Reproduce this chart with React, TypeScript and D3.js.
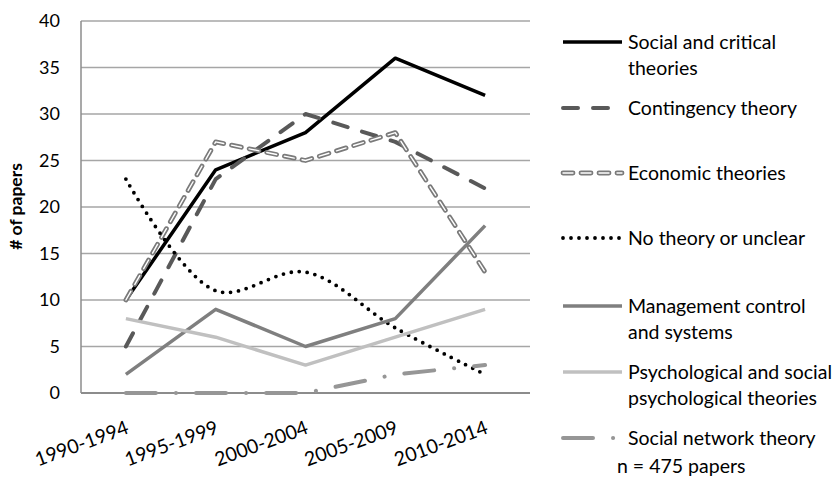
import React from "react";
import * as d3 from "d3";

const categories = ["1990-1994", "1995-1999", "2000-2004", "2005-2009", "2010-2014"];
const socialCritical = [10, 24, 28, 36, 32];
const contingency = [5, 23, 30, 27, 22];
const economic = [10, 27, 25, 28, 13];
const noTheory = [23, 11, 13, 7, 2];
const mgmtControl = [2, 9, 5, 8, 18];
const psychological = [8, 6, 3, 6, 9];
const socialNetwork = [0, 0, 0, 2, 3];
const yTicks = [0, 5, 10, 15, 20, 25, 30, 35, 40];

type Style = {
  color: string;
  width: number;
  dash?: string;
  cap?: "round" | "butt";
  compound?: boolean;
  smooth?: boolean;
};

const seriesList: { name: string[]; values: number[]; style: Style; ly: number }[] = [
  { name: ["Social and critical", "theories"], values: socialCritical, style: { color: "#000000", width: 3.5 }, ly: 42 },
  { name: ["Contingency theory"], values: contingency, style: { color: "#595959", width: 4, dash: "15 15", cap: "round" }, ly: 108 },
  { name: ["Economic theories"], values: economic, style: { color: "#7a7a7a", width: 4.8, dash: "10 8", cap: "round", compound: true }, ly: 173 },
  { name: ["No theory or unclear"], values: noTheory, style: { color: "#000000", width: 3.8, dash: "0 8", cap: "round", smooth: true }, ly: 238 },
  { name: ["Management control", "and systems"], values: mgmtControl, style: { color: "#7f7f7f", width: 3.5 }, ly: 306 },
  { name: ["Psychological and social", "psychological theories"], values: psychological, style: { color: "#c0c0c0", width: 3.5 }, ly: 372 },
  { name: ["Social network theory"], values: socialNetwork, style: { color: "#969696", width: 4, dash: "30 20 0.1 20", cap: "round" }, ly: 438 },
];

const W = 840;
const H = 479;
const left = 81;
const right = 530;
const top = 21;
const bottom = 393;
const font = "Lato, 'Open Sans', sans-serif";

export default function App() {
  const x = d3.scaleBand().domain(categories).range([left, right]);
  const y = d3.scaleLinear().domain([0, 40]).range([bottom, top]);
  const cx = (c: string) => (x(c) as number) + x.bandwidth() / 2;

  const renderLine = (d: string, s: Style, key: string) => (
    <g key={key}>
      <path
        d={d}
        fill="none"
        stroke={s.color}
        strokeWidth={s.width}
        strokeDasharray={s.dash}
        strokeLinecap={s.cap || "butt"}
        strokeLinejoin="round"
      />
      {s.compound && (
        <path
          d={d}
          fill="none"
          stroke="#ffffff"
          strokeWidth={1.4}
          strokeDasharray={s.dash}
          strokeLinecap={s.cap || "butt"}
          strokeLinejoin="round"
        />
      )}
    </g>
  );

  return (
    <svg
      width={W}
      height={H}
      style={{ position: "absolute", left: 0, top: 0, background: "#fff" }}
      fontFamily={font}
    >
      {yTicks.map((t) => (
        <g key={t}>
          {t > 0 && (
            <line x1={left} x2={right} y1={y(t)} y2={y(t)} stroke="#a6a6a6" strokeWidth={1.5} />
          )}
          <text x={60} y={y(t)} dy="0.36em" textAnchor="end" fontSize={18} fill="#000">
            {t}
          </text>
        </g>
      ))}
      <line x1={left} x2={left} y1={top} y2={bottom} stroke="#8c8c8c" strokeWidth={1.5} />
      <line x1={left} x2={right} y1={bottom} y2={bottom} stroke="#8c8c8c" strokeWidth={2} />
      <text
        transform={`translate(22,206.5) rotate(-90)`}
        textAnchor="middle"
        fontSize={17.5}
        fontWeight="bold"
      >
        # of papers
      </text>
      {categories.map((c) => (
        <text
          key={c}
          transform={`translate(${cx(c) + 4},${bottom + 40}) rotate(-20)`}
          textAnchor="end"
          fontSize={19.5}
        >
          {c}
        </text>
      ))}
      {seriesList.map((s, i) => {
        const gen = d3
          .line<number>()
          .x((_, j) => cx(categories[j]))
          .y((v) => y(v))
          .curve(s.style.smooth ? d3.curveCatmullRom.alpha(0.5) : d3.curveLinear);
        return renderLine(gen(s.values) as string, s.style, "s" + i);
      })}
      {seriesList.map((s, i) => {
        const ld = `M563,${s.ly}L622,${s.ly}`;
        return (
          <g key={"l" + i}>
            {renderLine(ld, s.style, "ll" + i)}
            {s.name.map((n, k) => (
              <text key={k} x={628} y={s.ly + k * 26} dy="0.35em" fontSize={19.5}>
                {n}
              </text>
            ))}
          </g>
        );
      })}
      <text x={617} y={466} dy="0.35em" fontSize={19.5}>
        n = 475 papers
      </text>
    </svg>
  );
}
